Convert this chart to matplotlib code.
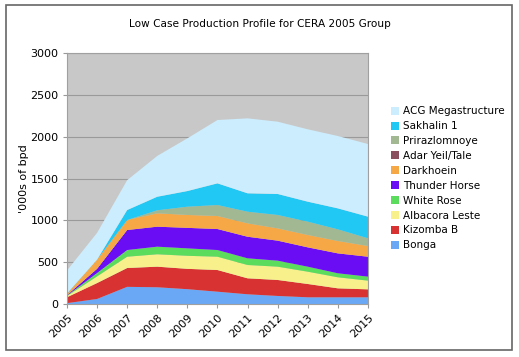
import matplotlib.pyplot as plt
import matplotlib.patches as mpatches
import numpy as np

# ── Data (thousand bpd) ───────────────────────────────────────────
years = [2005, 2006, 2007, 2008, 2009, 2010, 2011, 2012, 2013, 2014, 2015]

bonga     = [10, 60, 205, 200, 177, 147, 116, 96, 80, 80, 80]
kizomba   = [70, 190, 225, 246, 243, 259, 191, 191, 159, 107, 95]
albacora  = [15, 80, 135, 148, 156, 159, 159, 159, 147, 132, 104]
whiterose = [5, 40, 80, 91, 89, 80, 80, 72, 60, 48, 48]
thunder   = [5, 50, 239, 239, 245, 251, 258, 239, 231, 238, 238]
darkhoein = [15, 110, 120, 160, 154, 156, 160, 147, 148, 148, 128]
adar      = [0, 0, 0, 0, 0, 0, 0, 0, 0, 0, 0]
priraz    = [0, 0, 0, 36, 99, 131, 139, 160, 159, 139, 92]
sakhalin  = [5, 0, 119, 162, 187, 259, 220, 251, 239, 251, 259]
acg       = [275, 320, 357, 488, 630, 757, 896, 864, 865, 865, 868]

names  = ["Bonga", "Kizomba B", "Albacora Leste", "White Rose", "Thunder Horse",
          "Darkhoein", "Adar Yeil/Tale", "Prirazlomnoye", "Sakhalin 1",
          "ACG Megastructure"]
colors = ["#6aa8f6", "#d83232", "#f8f08a", "#5cdc5c", "#6a0cf4",
          "#f6a846", "#8a5060", "#a2b892", "#22c8f4", "#ccedfd"]
series = [bonga, kizomba, albacora, whiterose, thunder,
          darkhoein, adar, priraz, sakhalin, acg]

# ── Plot ──────────────────────────────────────────────────────────
fig = plt.figure(figsize=(5.19, 3.57), dpi=100)
fig.patches.append(mpatches.Rectangle((0.012, 0.02), 0.975, 0.965,
                   transform=fig.transFigure, fill=False,
                   edgecolor="#666666", lw=1.2))

ax = fig.add_axes([0.129, 0.1485, 0.580, 0.703])
ax.set_facecolor("#c8c8c8")
ax.stackplot(years, *series, colors=colors, labels=names, linewidth=0)

ax.set_xlim(2005, 2015)
ax.set_ylim(0, 3000)
ax.set_yticks(range(0, 3001, 500))
ax.set_xticks(years)
ax.set_xticklabels([str(y) for y in years], rotation=45, ha="right",
                   rotation_mode="anchor")
ax.tick_params(labelsize=8, length=3, color="#999999", pad=3)
ax.yaxis.grid(True, color="#9a9a9a", lw=0.8)
ax.set_axisbelow(True)
for s in ax.spines.values():
    s.set_color("#a0a0a0")
    s.set_linewidth(0.8)

ax.set_ylabel("'000s of bpd", fontsize=8, labelpad=1)
fig.text(0.5, 0.932, "Low Case Production Profile for CERA 2005 Group",
         ha="center", va="center", fontsize=7.6)

handles, labels = ax.get_legend_handles_labels()
fig.legend(handles[::-1], labels[::-1], loc="upper left",
           bbox_to_anchor=(0.745, 0.714), frameon=False, fontsize=7.5,
           handlelength=0.8, handleheight=0.8, handletextpad=0.4,
           labelspacing=0.47, borderaxespad=0)

plt.savefig("out.png", dpi=100)
